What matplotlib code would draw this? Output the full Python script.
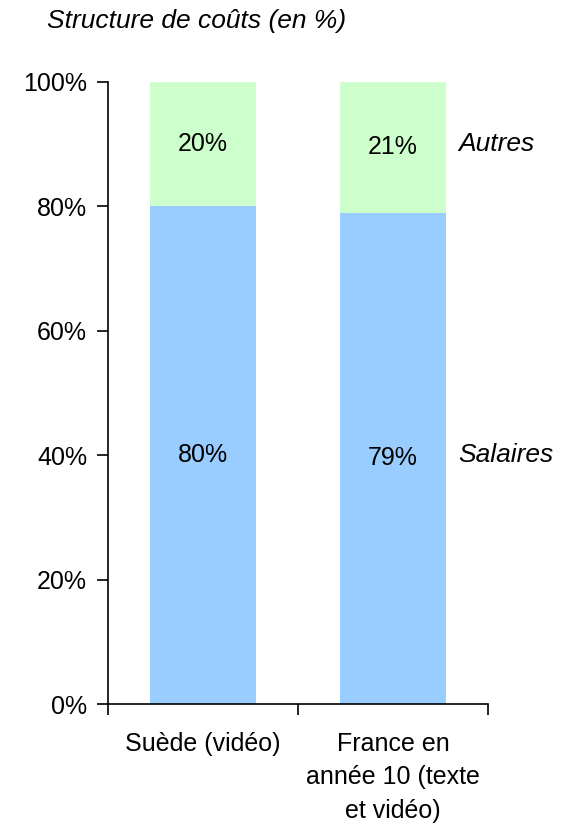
import matplotlib.pyplot as plt
from matplotlib.ticker import FuncFormatter

plt.rcParams['font.family'] = ['Liberation Sans', 'DejaVu Sans']

# Data
categories = ["Suède (vidéo)", "France en\nannée 10 (texte\net vidéo)"]
salaires = [80, 79]
autres = [20, 21]
series_names = ["Salaires", "Autres"]
colors = ["#99CCFF", "#CCFFCC"]

fig = plt.figure(figsize=(5.76, 8.24), dpi=100)
ax = fig.add_axes([0.1875, 0.1456, 0.6597, 0.7549])

x = [0.5, 1.5]
ax.bar(x, salaires, width=0.56, color=colors[0])
ax.bar(x, autres, width=0.56, bottom=salaires, color=colors[1])

# Value labels inside the bars
for xi, s, a in zip(x, salaires, autres):
    ax.text(xi, s / 2, f"{s}%", ha='center', va='center', fontsize=18)
    ax.text(xi, s + a / 2, f"{a}%", ha='center', va='center', fontsize=18)

# Series names on the right
ax.text(1.842, salaires[1] / 2 + 0.5, series_names[0], ha='left', va='center',
        fontsize=19, style='italic')
ax.text(1.842, salaires[1] + autres[1] / 2 + 0.5, series_names[1], ha='left',
        va='center', fontsize=19, style='italic')

ax.set_xlim(0, 2)
ax.set_ylim(0, 100)
ax.set_yticks(range(0, 101, 20))
ax.yaxis.set_major_formatter(FuncFormatter(lambda v, p: f"{int(v)}%"))
ax.set_xticks([0, 1, 2])
ax.set_xticklabels([])
ax.set_xticks(x, minor=True)
ax.set_xticklabels(categories, minor=True, linespacing=1.5)
ax.tick_params(axis='x', which='minor', length=0, pad=20, labelsize=18)
ax.tick_params(axis='x', which='major', length=8, width=1.2, direction='out')
ax.tick_params(axis='y', length=8, width=1.2, direction='out', labelsize=18, pad=7)

for side in ['top', 'right']:
    ax.spines[side].set_visible(False)
for side in ['left', 'bottom']:
    ax.spines[side].set_linewidth(1.2)

fig.text(0.082, 0.975, "Structure de coûts (en %)", ha='left', va='center',
         fontsize=19, style='italic')

fig.savefig("out.png", dpi=100)
